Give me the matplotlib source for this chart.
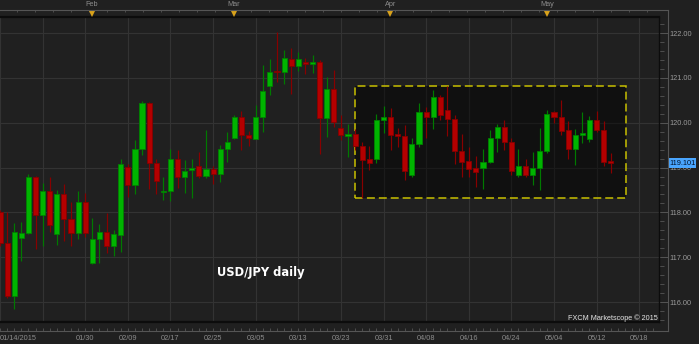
#!/usr/bin/env python3
"""
USD/JPY daily candles in a dark Marketscope-like style.
Output: out.png (699x344)
"""

import numpy as np
import pandas as pd
import matplotlib
matplotlib.use("Agg")
import matplotlib.pyplot as plt
import matplotlib.transforms as mtransforms
from matplotlib.lines import Line2D
from matplotlib.patches import Rectangle
from matplotlib.ticker import MultipleLocator

OUTPUT_FIG = "out.png"

# ===============================================================
# DATA
# ===============================================================
# trading days shown (Mon-Fri, 2015-01-14 .. 2015-05-14)
dates = pd.bdate_range("2015-01-14", "2015-05-14")

opens = [118.00, 117.32, 116.14, 117.44, 117.55, 118.80, 117.95, 118.48, 117.52, 118.42,
         117.85, 117.53, 118.24, 116.88, 117.41, 117.56, 117.24, 117.50, 119.02, 118.62,
         119.41, 120.45, 119.11, 118.46, 118.48, 119.20, 118.78, 118.94, 119.04, 118.81,
         118.96, 118.86, 119.41, 119.67, 120.12, 119.72, 119.64, 120.13, 120.82, 121.16,
         121.12, 121.41, 121.26, 121.35, 121.31, 121.36, 120.10, 120.76, 119.88, 119.70,
         119.74, 119.47, 119.18, 119.18, 120.06, 120.12, 119.74, 119.70, 118.84, 119.53,
         120.23, 120.13, 120.57, 120.28, 120.09, 119.38, 119.14, 118.98, 118.98, 119.13,
         119.66, 119.91, 119.57, 118.83, 119.03, 118.83, 118.99, 119.37, 120.24, 120.13,
         119.83, 119.41, 119.72, 119.63, 120.06, 119.84, 119.15]
highs = [118.05, 118.00, 117.76, 117.78, 118.85, 118.82, 118.65, 118.79, 118.50, 118.64,
         118.24, 118.48, 118.44, 117.87, 117.74, 117.98, 117.61, 119.20, 119.07, 119.61,
         120.48, 120.47, 119.18, 118.78, 119.41, 119.40, 119.16, 119.18, 119.34, 119.83,
         119.03, 119.50, 119.79, 120.18, 120.26, 119.81, 120.40, 121.28, 121.41, 122.02,
         121.62, 121.66, 121.57, 121.44, 121.50, 121.39, 121.02, 121.18, 120.17, 119.96,
         119.85, 119.57, 119.47, 120.20, 120.37, 120.32, 119.88, 119.94, 119.67, 120.43,
         120.34, 120.72, 120.61, 120.81, 120.17, 119.74, 119.46, 119.25, 119.42, 119.83,
         119.96, 120.07, 119.65, 119.42, 119.18, 119.35, 119.89, 120.28, 120.25, 120.50,
         120.03, 119.85, 120.23, 120.14, 120.26, 120.03, 119.32]
lows = [117.25, 116.10, 115.85, 116.92, 117.52, 117.19, 117.26, 117.56, 117.27, 117.36,
        117.26, 117.40, 117.45, 116.86, 116.88, 117.09, 117.03, 117.12, 118.35, 118.40,
        119.29, 118.53, 118.42, 118.27, 118.25, 118.55, 118.44, 118.31, 118.76, 118.77,
        118.63, 118.68, 119.12, 119.63, 119.40, 119.47, 119.63, 119.79, 120.61, 120.91,
        120.86, 120.65, 121.15, 121.09, 121.11, 119.30, 119.68, 119.91, 119.61, 119.24,
        119.40, 118.31, 118.94, 119.10, 119.77, 119.40, 119.46, 118.73, 118.79, 119.46,
        119.65, 119.87, 120.06, 119.70, 119.09, 118.79, 118.79, 118.57, 118.53, 119.10,
        119.35, 119.40, 118.83, 118.78, 118.79, 118.61, 118.50, 119.33, 120.00, 119.72,
        119.20, 119.05, 119.54, 119.58, 119.80, 119.03, 118.88]
closes = [117.32, 116.14, 117.56, 117.54, 118.80, 117.95, 118.48, 117.73, 118.42, 117.86,
          117.53, 118.24, 117.53, 117.41, 117.56, 117.25, 117.51, 119.09, 118.62, 119.42,
          120.45, 119.11, 118.70, 118.48, 119.20, 118.78, 118.93, 119.00, 118.81, 118.96,
          118.86, 119.42, 119.58, 120.12, 119.72, 119.65, 120.12, 120.71, 121.14, 121.12,
          121.44, 121.26, 121.43, 121.31, 121.35, 120.10, 120.76, 120.02, 119.72, 119.74,
          119.48, 119.16, 119.10, 120.07, 120.12, 119.72, 119.70, 118.92, 119.53, 120.23,
          120.13, 120.57, 120.17, 120.08, 119.37, 119.12, 118.96, 118.89, 119.12, 119.67,
          119.91, 119.57, 118.93, 119.03, 118.83, 118.99, 119.37, 120.19, 120.12, 119.82,
          119.41, 119.72, 119.78, 120.06, 119.84, 119.12, 119.101]

last_price = 119.101

tick_labels = ["01/14/2015", "01/30", "02/09", "02/17", "02/25", "03/05", "03/13",
               "03/23", "03/31", "04/08", "04/16", "04/24", "05/04", "05/12", "05/18"]
price_ticks = [116, 117, 118, 119, 120, 121, 122]

range_start = 50   # first candle of the Apr/May sideways range

# ===============================================================
# LAYOUT / STYLE
# ===============================================================
W, H = 699, 344
PLOT_R, PLOT_T, PLOT_B = 659, 17, 322
SLOT = 7.11                      # pixels per candle
XLIM = (0.1, 0.1 + PLOT_R / SLOT)
YLIM = (115.556, 122.357)

BG = "#202020"
GRID = "#333333"
AXIS_LINE = "#555555"
TICK_TXT = "#8c8c8c"
GREEN, GREEN_EDGE, GREEN_WICK = "#00b400", "#008200", "#007a00"
RED, RED_EDGE, RED_WICK = "#b40000", "#860000", "#880000"
BOX_YELLOW = "#c8c000"
TICK_FONT = "Liberation Sans"

# ===============================================================
# FIGURE
# ===============================================================
fig = plt.figure(figsize=(W / 100, H / 100), dpi=100, facecolor=BG)

ax = fig.add_axes([0, (H - PLOT_B) / H, PLOT_R / W, (PLOT_B - PLOT_T) / H])
ax.set_facecolor(BG)
ax.set_xlim(*XLIM)
ax.set_ylim(*YLIM)
ax.set_axisbelow(True)

# grid: every 6 candles / every 1.00
ax.set_xticks(np.arange(0, 93, 6))
ax.tick_params(axis="x", length=0, labelbottom=False)
ax.grid(True, which="major", color=GRID, linewidth=0.8)

# right price axis
ax.yaxis.tick_right()
ax.set_yticks(price_ticks)
ax.set_yticklabels([f"{p:.2f}" for p in price_ticks], fontfamily=TICK_FONT)
ax.yaxis.set_minor_locator(MultipleLocator(0.2))
ax.tick_params(axis="y", which="major", direction="out", length=6.3, width=0.7,
               color=AXIS_LINE, pad=1.2, labelsize=5.3, labelcolor="#9a9a9a")
ax.tick_params(axis="y", which="minor", direction="out", length=3.4, width=0.6,
               color=AXIS_LINE)

for side in ["left"]:
    ax.spines[side].set_visible(False)
ax.spines["top"].set_color("#0c0c0c")
ax.spines["top"].set_linewidth(1.6)
ax.spines["bottom"].set_color("#0c0c0c")
ax.spines["bottom"].set_linewidth(1.6)
ax.spines["right"].set_color("#0c0c0c")
ax.spines["right"].set_linewidth(1.0)

# ===============================================================
# RANGE BOX (Apr-May consolidation)
# ===============================================================
n = len(dates)
box_lo = min(lows[range_start:])
box_hi = max(highs[range_start:])
box_x0, box_x1 = range_start, n - 1 + 2.2
ax.add_patch(Rectangle((box_x0, box_lo), box_x1 - box_x0, box_hi - box_lo,
                       facecolor="black", alpha=0.47, edgecolor="none", zorder=1.5))
ax.add_patch(Rectangle((box_x0, box_lo), box_x1 - box_x0, box_hi - box_lo,
                       fill=False, edgecolor=BOX_YELLOW, linewidth=1.1,
                       linestyle=(0, (5.2, 2.6)), zorder=1.6))

# ===============================================================
# CANDLES
# ===============================================================
x = np.arange(n)
o = np.array(opens)
h = np.array(highs)
l = np.array(lows)
c = np.array(closes)
up = c >= o

wick_cols = np.where(up, GREEN_WICK, RED_WICK)
body_cols = np.where(up, GREEN, RED)
edge_cols = np.where(up, GREEN_EDGE, RED_EDGE)

ax.vlines(x, l, h, colors=wick_cols, linewidth=0.85, zorder=2)

min_body = 0.035
height = np.maximum(np.abs(c - o), min_body)
mid = (o + c) / 2
bottom = mid - height / 2
ax.bar(x, height, bottom=bottom, width=0.72, color=body_cols,
       edgecolor=edge_cols, linewidth=0.6, zorder=3)

# ===============================================================
# TEXTS
# ===============================================================
ax.text(36.7, 116.65, "USD/JPY daily", color="white", fontsize=8.3,
        fontweight="bold", ha="center", va="center", zorder=5)

ax.text(658 / PLOT_R, 1.7 / (PLOT_B - PLOT_T), "FXCM Marketscope \u00a9 2015",
        transform=ax.transAxes, color="#e6e6e6", fontsize=5.2, family=TICK_FONT,
        ha="right", va="baseline", zorder=5)

# last price tag on the right axis
blend = mtransforms.blended_transform_factory(ax.transAxes, ax.transData)
ax.text(669 / PLOT_R, last_price, f"{last_price:.3f}", transform=blend,
        color="#001028", fontsize=5.3, family=TICK_FONT, ha="left", va="center",
        clip_on=False, zorder=10,
        bbox=dict(boxstyle="square,pad=0.15", facecolor="#4aa6ff", edgecolor="none"))

# ===============================================================
# BOTTOM DATE AXIS
# ===============================================================
axb = fig.add_axes([0, (H - 331) / H, PLOT_R / W, 9 / H])
axb.patch.set_visible(False)
for s in axb.spines.values():
    s.set_visible(False)
axb.set_xlim(*XLIM)
axb.set_yticks([])
tick_pos = [0] + list(range(12, 91, 6))
axb.set_xticks(tick_pos)
axb.set_xticklabels(tick_labels, fontfamily=TICK_FONT)
axb.xaxis.set_minor_locator(MultipleLocator(1))
axb.tick_params(axis="x", which="both", direction="in", length=2.4, width=0.6,
                color=AXIS_LINE, labelsize=5.3, labelcolor=TICK_TXT, pad=2.6)
axb.get_xticklabels()[0].set_horizontalalignment("left")

# ===============================================================
# TOP MONTH AXIS
# ===============================================================
axt = fig.add_axes([0, (H - PLOT_T) / H, PLOT_R / W, (PLOT_T - 10.3) / H])
axt.patch.set_visible(False)
for s in axt.spines.values():
    s.set_visible(False)
axt.set_xlim(*XLIM)
axt.set_ylim(0, 1)
axt.set_yticks([])
axt.xaxis.set_major_locator(MultipleLocator(2.53))
axt.tick_params(axis="x", which="both", direction="in", top=True, bottom=False,
                labeltop=False, labelbottom=False, length=1.6, width=0.6,
                color=AXIS_LINE)

month_idx = [i for i in range(1, n) if dates[i].month != dates[i - 1].month]
tblend = mtransforms.blended_transform_factory(axt.transData, axt.transAxes)
for i in month_idx:
    axt.plot(i, 0.45, marker="v", markersize=4.2, color="#d9a21b",
             markeredgewidth=0, transform=tblend, clip_on=False)
    axt.text(i, 1.8, dates[i].strftime("%b"), transform=tblend, color=TICK_TXT,
             fontsize=5.2, family=TICK_FONT, ha="center", va="center")

# ===============================================================
# FRAME LINES (outer axis rails)
# ===============================================================
rail_x = 667.7 / W
fig.add_artist(Line2D([0, rail_x], [1 - 10.3 / H] * 2, transform=fig.transFigure,
                      color=AXIS_LINE, linewidth=0.8))
fig.add_artist(Line2D([0, rail_x], [1 - 331 / H] * 2, transform=fig.transFigure,
                      color=AXIS_LINE, linewidth=0.8))
fig.add_artist(Line2D([rail_x, rail_x], [1 - 331 / H, 1 - 10.3 / H],
                      transform=fig.transFigure, color=AXIS_LINE, linewidth=0.8))

fig.savefig(OUTPUT_FIG, dpi=100, facecolor=BG)
plt.close(fig)
